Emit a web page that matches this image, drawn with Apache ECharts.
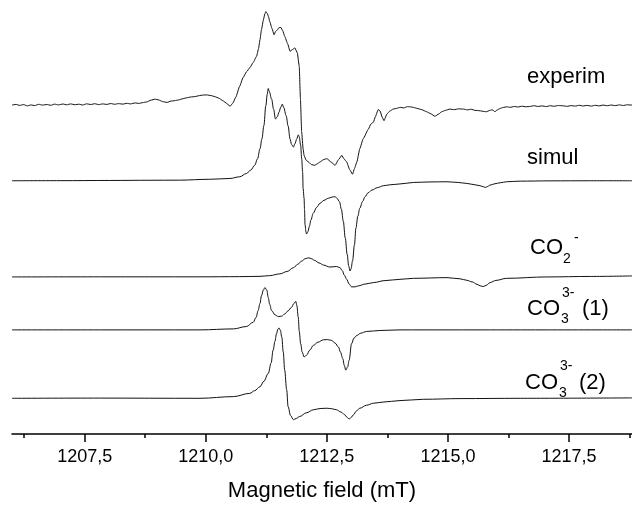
<!DOCTYPE html>
<html>
<head>
<meta charset="utf-8">
<script src="https://cdn.jsdelivr.net/npm/echarts@6/dist/echarts.min.js"></script>
<style>
html,body{margin:0;padding:0;background:#fff;}
#chart{width:632px;height:507px;}
</style>
</head>
<body>
<div id="chart"></div>
<script>
// Magnetic field (mT) range and ticks
const fieldMin = 1206.0;
const fieldMax = 1218.8;
const majorTicks = [1207.5, 1210.0, 1212.5, 1215.0, 1217.5];
const minorTicks = [1206.25, 1208.75, 1211.25, 1213.75, 1216.25, 1218.75];
const traceNames = ['experim', 'simul', 'CO2-', 'CO3 3- (1)', 'CO3 3- (2)'];

// [field (mT), intensity (a.u., stacked)]
const experim = [[1206.00,331.7],[1206.08,332.4],[1206.16,331.4],[1206.24,332.2],[1206.32,330.9],[1206.39,331.9],[1206.47,331.2],[1206.55,332.5],[1206.63,331.7],[1206.72,332.3],[1206.80,331.5],[1206.88,332.7],[1206.96,331.9],[1207.05,332.8],[1207.13,332.0],[1207.21,332.9],[1207.30,332.1],[1207.38,332.6],[1207.46,331.8],[1207.54,333.0],[1207.63,332.3],[1207.71,333.1],[1207.79,332.2],[1207.87,332.9],[1207.96,332.4],[1208.04,333.3],[1208.12,332.5],[1208.20,333.2],[1208.29,332.7],[1208.37,333.5],[1208.45,332.9],[1208.54,333.9],[1208.62,333.4],[1208.70,334.2],[1208.78,334.9],[1208.87,336.7],[1208.95,337.7],[1209.03,336.9],[1209.11,335.2],[1209.20,334.4],[1209.28,335.7],[1209.36,336.2],[1209.44,336.9],[1209.53,338.2],[1209.61,339.1],[1209.69,339.9],[1209.78,340.3],[1209.86,341.2],[1209.94,341.8],[1210.02,342.0],[1210.11,341.3],[1210.19,340.2],[1210.27,338.7],[1210.35,336.2],[1210.44,333.2],[1210.50,330.4],[1210.56,333.7],[1210.62,339.7],[1210.70,350.7],[1210.77,359.4],[1210.84,365.2],[1210.91,369.4],[1210.98,374.7],[1211.05,381.0],[1211.09,388.7],[1211.12,397.7],[1211.15,407.7],[1211.19,417.7],[1211.22,423.7],[1211.24,426.0],[1211.27,424.2],[1211.30,420.2],[1211.32,416.0],[1211.37,408.7],[1211.41,402.7],[1211.44,405.7],[1211.48,407.7],[1211.51,409.7],[1211.55,410.0],[1211.59,406.7],[1211.63,401.0],[1211.69,393.7],[1211.74,386.0],[1211.79,387.7],[1211.84,389.4],[1211.89,384.4],[1211.93,371.0],[1211.955,337.7],[1211.98,304.7],[1212.01,287.7],[1212.03,281.0],[1212.07,276.2],[1212.12,274.4],[1212.18,271.7],[1212.25,271.0],[1212.31,272.7],[1212.36,274.4],[1212.43,276.7],[1212.50,277.7],[1212.59,274.2],[1212.67,271.0],[1212.74,276.7],[1212.81,281.0],[1212.85,277.7],[1212.91,274.4],[1212.97,266.7],[1213.03,262.0],[1213.07,267.7],[1213.12,274.4],[1213.18,287.7],[1213.25,297.7],[1213.36,307.7],[1213.41,312.7],[1213.46,314.4],[1213.50,319.7],[1213.56,327.2],[1213.60,325.7],[1213.64,319.7],[1213.68,316.0],[1213.74,322.7],[1213.80,325.7],[1213.87,327.7],[1213.94,328.4],[1214.01,329.4],[1214.09,328.9],[1214.16,330.1],[1214.22,330.0],[1214.29,329.4],[1214.36,328.4],[1214.46,327.1],[1214.56,325.0],[1214.65,322.9],[1214.73,320.4],[1214.81,322.7],[1214.87,325.0],[1214.95,326.4],[1215.04,327.7],[1215.13,327.1],[1215.21,327.9],[1215.32,327.7],[1215.40,326.9],[1215.48,327.5],[1215.56,326.4],[1215.66,326.0],[1215.74,325.3],[1215.80,325.0],[1215.85,326.2],[1215.91,327.0],[1215.94,326.2],[1215.97,325.0],[1216.02,326.9],[1216.08,328.4],[1216.14,329.3],[1216.22,330.0],[1216.28,329.4],[1216.37,330.3],[1216.45,329.8],[1216.53,330.6],[1216.61,330.0],[1216.70,330.4],[1216.78,331.1],[1216.86,330.3],[1216.94,330.9],[1217.03,330.2],[1217.11,331.1],[1217.19,330.5],[1217.28,331.3],[1217.38,331.0],[1217.46,330.4],[1217.54,331.2],[1217.63,330.7],[1217.71,331.5],[1217.79,330.8],[1217.87,331.4],[1217.96,330.7],[1218.04,331.5],[1218.12,330.9],[1218.20,331.7],[1218.29,331.1],[1218.37,331.8],[1218.45,331.2],[1218.54,331.9],[1218.62,331.3],[1218.70,332.0],[1218.80,331.7]];

const simul = [[1206.00,255.4],[1206.99,255.5],[1208.02,255.7],[1208.85,255.9],[1209.46,256.0],[1210.08,256.9],[1210.50,257.7],[1210.70,259.4],[1210.84,262.7],[1210.93,266.2],[1211.01,271.0],[1211.07,277.7],[1211.12,287.7],[1211.16,297.7],[1211.20,311.0],[1211.24,331.0],[1211.27,342.7],[1211.29,348.4],[1211.31,345.7],[1211.36,337.7],[1211.40,327.7],[1211.44,317.7],[1211.48,320.2],[1211.51,324.4],[1211.55,329.7],[1211.58,332.7],[1211.61,329.2],[1211.66,321.0],[1211.70,310.7],[1211.74,297.7],[1211.77,292.2],[1211.81,289.4],[1211.84,292.7],[1211.88,297.7],[1211.91,301.7],[1211.93,299.7],[1211.96,291.0],[1211.98,277.7],[1212.00,264.4],[1212.01,247.7],[1212.03,237.7],[1212.04,225.7],[1212.05,211.0],[1212.07,203.7],[1212.08,201.7],[1212.11,204.2],[1212.14,209.4],[1212.17,215.7],[1212.22,222.7],[1212.29,228.7],[1212.36,232.7],[1212.44,235.7],[1212.53,237.7],[1212.61,239.0],[1212.67,239.4],[1212.71,237.7],[1212.76,234.4],[1212.80,226.7],[1212.84,214.4],[1212.88,197.7],[1212.92,181.0],[1212.95,169.7],[1212.98,164.4],[1213.00,166.7],[1213.03,174.4],[1213.07,190.7],[1213.10,207.7],[1213.14,219.7],[1213.18,227.7],[1213.24,234.7],[1213.29,239.4],[1213.35,243.2],[1213.43,246.0],[1213.54,248.4],[1213.67,250.4],[1213.80,251.3],[1214.01,252.2],[1214.29,253.7],[1214.63,254.2],[1214.98,254.4],[1215.21,253.7],[1215.39,252.7],[1215.54,251.5],[1215.66,250.4],[1215.73,249.4],[1215.77,248.7],[1215.81,249.4],[1215.87,251.0],[1215.97,252.4],[1216.08,253.4],[1216.21,254.4],[1216.49,255.0],[1217.11,255.3],[1217.94,255.4],[1218.80,255.4]];

const co2 = [[1206.00,158.4],[1207.81,158.5],[1209.88,158.5],[1210.70,158.7],[1211.12,159.0],[1211.32,159.7],[1211.53,161.5],[1211.68,163.9],[1211.81,167.7],[1211.90,171.2],[1211.98,174.4],[1212.05,176.7],[1212.12,177.7],[1212.18,176.9],[1212.25,175.0],[1212.34,172.5],[1212.43,170.4],[1212.56,168.4],[1212.70,168.9],[1212.77,167.7],[1212.82,164.7],[1212.86,160.2],[1212.91,156.0],[1212.96,151.2],[1213.01,148.4],[1213.08,148.4],[1213.15,149.4],[1213.29,151.2],[1213.46,152.7],[1213.70,154.7],[1214.01,156.0],[1214.29,157.0],[1214.98,157.7],[1215.25,156.5],[1215.39,155.0],[1215.50,153.4],[1215.60,151.0],[1215.66,149.5],[1215.73,148.7],[1215.80,150.2],[1215.87,152.7],[1215.99,154.9],[1216.21,157.0],[1217.04,158.4],[1217.94,158.9],[1218.80,159.4]];

const co3a = [[1206.00,105.0],[1207.81,105.0],[1209.88,105.0],[1210.57,106.0],[1210.84,108.4],[1210.98,112.7],[1211.04,117.7],[1211.08,124.4],[1211.12,131.7],[1211.15,139.4],[1211.19,145.2],[1211.22,147.7],[1211.26,145.2],[1211.29,137.7],[1211.32,130.7],[1211.36,124.4],[1211.43,120.2],[1211.50,118.4],[1211.57,118.9],[1211.63,121.0],[1211.70,124.2],[1211.77,127.7],[1211.82,131.7],[1211.86,133.7],[1211.88,129.7],[1211.91,117.7],[1211.93,103.7],[1211.96,91.0],[1211.99,82.7],[1212.03,77.7],[1212.08,79.4],[1212.15,84.7],[1212.22,89.4],[1212.32,92.7],[1212.43,95.0],[1212.51,95.2],[1212.60,94.4],[1212.67,91.7],[1212.74,87.7],[1212.78,82.7],[1212.83,76.0],[1212.86,69.2],[1212.89,64.4],[1212.93,67.7],[1212.96,74.4],[1213.01,91.0],[1213.06,96.7],[1213.12,99.4],[1213.20,101.7],[1213.32,103.4],[1213.60,104.4],[1214.01,105.0],[1215.04,105.0],[1218.80,105.0]];

const co3b = [[1206.00,36.0],[1207.81,36.2],[1209.88,36.0],[1210.57,37.7],[1210.91,41.0],[1211.01,43.7],[1211.12,47.7],[1211.20,53.2],[1211.29,61.0],[1211.35,71.7],[1211.39,84.4],[1211.43,93.7],[1211.46,101.0],[1211.49,105.7],[1211.51,107.0],[1211.54,104.7],[1211.57,97.7],[1211.60,82.7],[1211.63,64.4],[1211.67,44.7],[1211.70,27.7],[1211.75,18.7],[1211.81,14.4],[1211.87,15.7],[1211.94,17.7],[1212.08,21.4],[1212.22,24.4],[1212.36,25.7],[1212.50,26.0],[1212.60,25.5],[1212.70,24.4],[1212.79,22.2],[1212.87,19.4],[1212.92,16.7],[1212.96,15.0],[1213.00,16.7],[1213.05,19.4],[1213.11,23.2],[1213.18,26.0],[1213.32,29.0],[1213.46,31.0],[1213.66,32.2],[1214.01,33.7],[1214.49,35.0],[1215.25,35.7],[1216.49,36.0],[1218.80,36.4]];

const FONT = '"Liberation Sans", Arial, sans-serif';
const chart = echarts.init(document.getElementById('chart'), null, {renderer: 'canvas'});

function lineSeries(name, data, smooth) {
  return {
    name: name, type: 'line', data: data, xAxisIndex: 0, yAxisIndex: 0,
    showSymbol: false, symbol: 'none', smooth: smooth, smoothMonotone: 'x',
    lineStyle: {color: '#111', width: 1}, silent: true
  };
}

function txt(text, x, baseline, size) {
  return {
    type: 'text', x: x, y: baseline - 0.3465 * size, silent: true,
    style: {text: text, font: size + 'px ' + FONT, fill: '#000', align: 'left', verticalAlign: 'middle'}
  };
}

const option = {
  animation: false,
  backgroundColor: '#fff',
  grid: {left: 12, right: 0, top: 0, bottom: 69.3, containLabel: false},
  xAxis: [{
    type: 'value', min: fieldMin, max: fieldMax, position: 'bottom',
    name: 'Magnetic field (mT)', nameLocation: 'middle', nameGap: 46,
    nameTextStyle: {fontFamily: FONT, fontSize: 22, color: '#000'},
    axisLine: {onZero: false, lineStyle: {color: '#000', width: 1.5}},
    axisTick: {show: true, inside: false, length: 8, customValues: majorTicks, lineStyle: {color: '#000', width: 1.5}},
    axisLabel: {show: true, margin: 14, customValues: majorTicks, fontFamily: FONT, fontSize: 18, color: '#000',
      formatter: v => v.toFixed(1).replace('.', ',')},
    splitLine: {show: false}
  }, {
    type: 'value', min: fieldMin, max: fieldMax, position: 'bottom', gridIndex: 0,
    axisLine: {show: false, onZero: false},
    axisTick: {show: true, inside: false, length: 4, customValues: minorTicks, lineStyle: {color: '#000', width: 1.5}},
    axisLabel: {show: false},
    splitLine: {show: false}
  }],
  yAxis: {type: 'value', min: 0, max: 437.7, show: false, splitLine: {show: false}},
  series: [
    lineSeries(traceNames[0], experim, 0.15),
    lineSeries(traceNames[1], simul, 0.35),
    lineSeries(traceNames[2], co2, 0.35),
    lineSeries(traceNames[3], co3a, 0.35),
    lineSeries(traceNames[4], co3b, 0.35)
  ],
  graphic: [
    txt('experim', 527, 85, 22),
    txt('simul', 527, 166, 22),
    txt('CO', 530, 256, 22),
    txt('2', 563, 264, 14),
    txt('-', 574, 243, 14),
    txt('CO', 527, 317, 22),
    txt('3', 561, 324, 14),
    txt('3-', 562, 298, 14),
    txt('(1)', 582, 317, 22),
    txt('CO', 525, 391, 22),
    txt('3', 559, 398, 14),
    txt('3-', 560, 371, 14),
    txt('(2)', 579, 391, 22)
  ]
};
chart.setOption(option);
</script>
</body>
</html>
